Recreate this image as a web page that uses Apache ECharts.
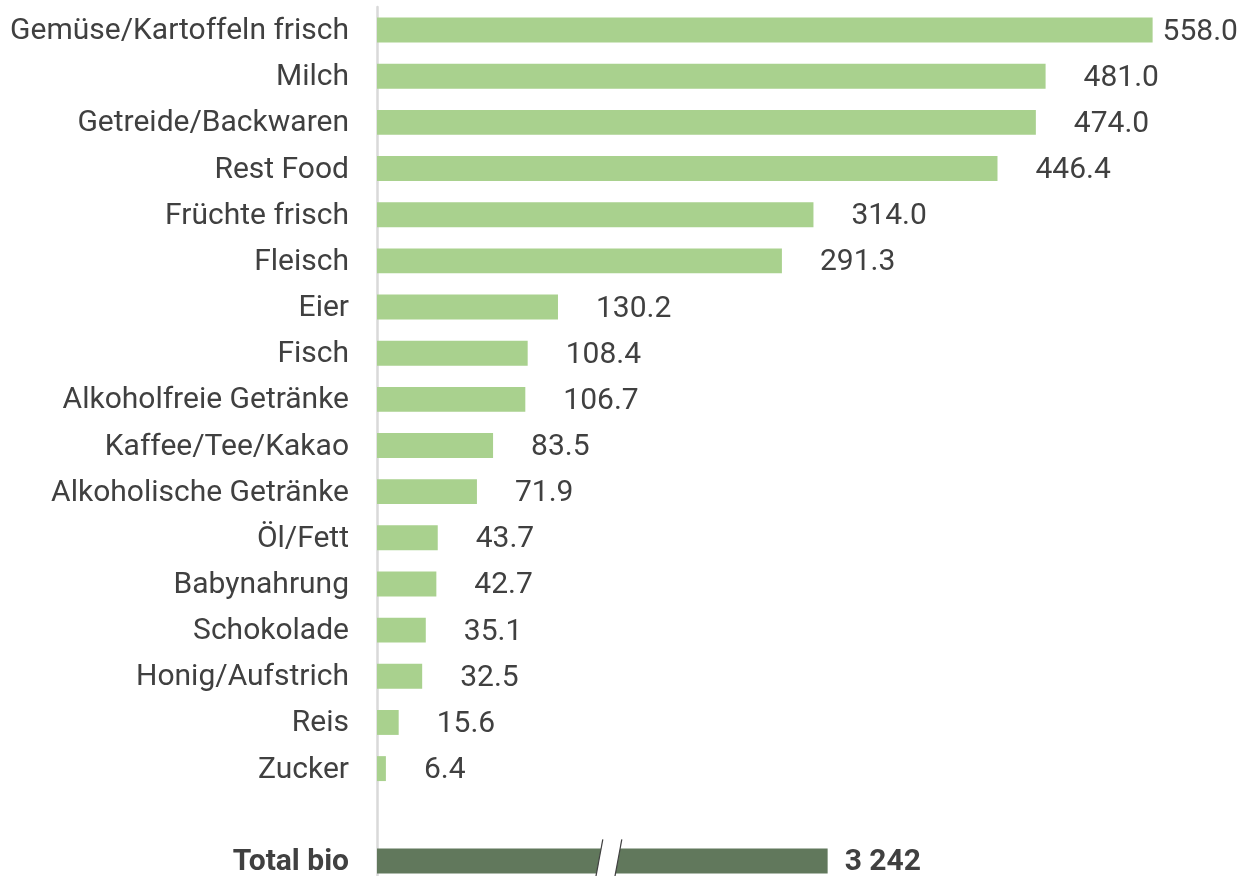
<!DOCTYPE html>
<html>
<head>
<meta charset="utf-8">
<script src="https://cdn.jsdelivr.net/npm/echarts@6/dist/echarts.min.js"></script>
<style>
  html, body { margin: 0; padding: 0; background: #fff; }
  #main { width: 1246px; height: 876px; }
</style>
</head>
<body>
<div id="main"></div>
<script>
// 类别 / 数值
var categories = ['Gemüse/Kartoffeln frisch', 'Milch', 'Getreide/Backwaren', 'Rest Food', 'Früchte frisch',
  'Fleisch', 'Eier', 'Fisch', 'Alkoholfreie Getränke', 'Kaffee/Tee/Kakao', 'Alkoholische Getränke',
  'Öl/Fett', 'Babynahrung', 'Schokolade', 'Honig/Aufstrich', 'Reis', 'Zucker'];
var values = [558.0, 481.0, 474.0, 446.4, 314.0, 291.3, 130.2, 108.4, 106.7, 83.5, 71.9,
  43.7, 42.7, 35.1, 32.5, 15.6, 6.4];
var totalLabel = 'Total bio';
var totalValue = 3242;

var allCats = categories.concat(['', totalLabel]);
var totalIdx = allCats.length - 1;

var chart = echarts.init(document.getElementById('main'));

// 绿色条
var barData = values.map(function (v, i) {
  var item = { value: v };
  if (i === 0) item.label = { distance: 10 }; // 第一个标签贴近
  return item;
});

// 总计条（带断裂）
function renderTotal(params, api) {
  var y = api.value(1);
  var start = api.coord([0, y]);
  var end = api.coord([api.value(0), y]);
  var h = api.size([0, 1])[1] * 0.54;
  var top = start[1] - h / 2;
  var len = end[0] - start[0];
  var bx = start[0] + len * 0.5 + 10; // 断裂位置
  var gap = 19, slant = 8;
  var lineTop = top - 9, lineBot = top + h + 9;
  var sx = slant / (lineBot - lineTop);
  function xAt(x0, yy) { return x0 - (yy - lineTop) * sx; }
  var l = bx - gap / 2, r = bx + gap / 2;
  return {
    type: 'group',
    children: [
      { type: 'rect', shape: { x: start[0], y: top, width: len, height: h }, style: { fill: '#61785c' } },
      { type: 'polygon', shape: { points: [
          [xAt(l, lineTop), lineTop], [xAt(r, lineTop), lineTop],
          [xAt(r, lineBot), lineBot], [xAt(l, lineBot), lineBot]] },
        style: { fill: '#ffffff' } },
      { type: 'line', shape: { x1: xAt(l, lineTop), y1: lineTop, x2: xAt(l, lineBot), y2: lineBot },
        style: { stroke: '#404040', lineWidth: 1.2 } },
      { type: 'line', shape: { x1: xAt(r, lineTop), y1: lineTop, x2: xAt(r, lineBot), y2: lineBot },
        style: { stroke: '#404040', lineWidth: 1.2 } },
      { type: 'text', x: end[0] + 17, y: start[1] + 2,
        style: { text: String(api.value(0)).replace(/\B(?=(\d{3})+(?!\d))/g, ' '),
          fill: '#404040', font: 'bold 30px Roboto', verticalAlign: 'middle', align: 'left' } }
    ]
  };
}

var option = {
  backgroundColor: '#ffffff',
  animation: false,
  grid: { left: 377, width: 834, top: 7, height: 877, containLabel: false, outerBoundsMode: 'none' },
  xAxis: [
    { type: 'value', min: 0, max: 600, show: false },
    { type: 'value', min: 0, max: 6000, show: false }
  ],
  yAxis: {
    type: 'category',
    inverse: true,
    data: allCats,
    axisLine: { show: true, lineStyle: { color: '#d9d9d9', width: 2.5 } },
    axisTick: { show: false },
    splitLine: { show: false },
    axisLabel: {
      margin: 28,
      padding: [3, 0, 0, 0],
      fontFamily: 'Roboto',
      fontSize: 30,
      color: '#404040',
      formatter: function (v) { return v === totalLabel ? '{b|' + v + '}' : v; },
      rich: { b: { fontFamily: 'Roboto', fontSize: 30, fontWeight: 'bold', color: '#404040' } }
    }
  },
  series: [
    {
      type: 'bar',
      xAxisIndex: 0,
      data: barData,
      barWidth: '54%',
      itemStyle: { color: '#a9d18e' },
      label: {
        show: true, position: 'right', distance: 38, offset: [0, 2],
        fontFamily: 'Roboto', fontSize: 30, color: '#404040',
        formatter: function (p) { return p.value.toFixed(1); }
      }
    },
    {
      type: 'custom',
      xAxisIndex: 1,
      renderItem: renderTotal,
      encode: { x: 0, y: 1 },
      data: [[totalValue, totalIdx]]
    }
  ]
};
chart.setOption(option);
</script>
</body>
</html>
